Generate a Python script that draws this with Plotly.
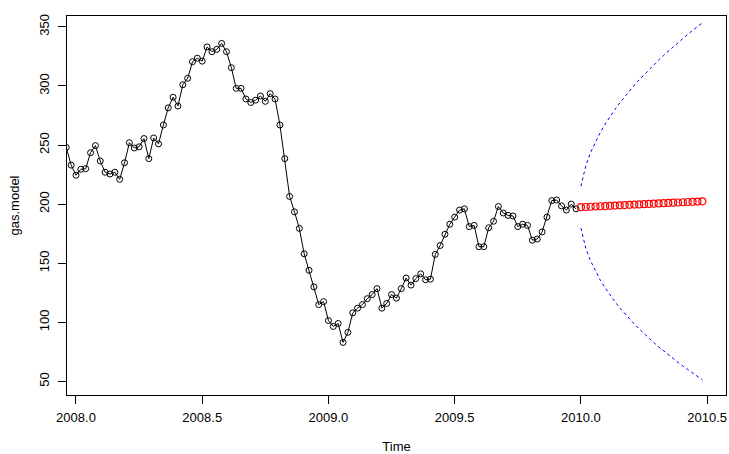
import plotly.graph_objects as go

# Weekly series: ts(start = c(2007, 51), frequency = 52)
freq = 52
start_time = 2007 + 50 / 52
gas_model = [
    248, 233, 224.5, 229.5, 230, 243.5, 249.5, 236.5, 227, 225.5,
    227, 221, 235, 252, 247.5, 248.5, 255.5, 238.5, 256, 251,
    267, 281.5, 290.5, 283, 301, 306.5, 320.5, 323.5, 321, 333,
    329, 331, 336, 329, 315.5, 298, 298, 289, 286, 288,
    291.5, 287, 293.5, 289, 267, 238.5, 206.5, 193.5, 179.5, 158,
    144, 130, 115, 117.5, 101.5, 96.5, 99, 83, 91.5, 108,
    112, 115, 120, 123.5, 128.5, 112, 116, 123.5, 120.5, 128.5,
    137.5, 131.5, 137, 141, 136, 136.5, 157.5, 165, 174.5, 183,
    189, 195, 196, 181, 182, 164, 164, 180, 185.5, 198,
    192.5, 190.5, 190, 181, 183, 182, 169.5, 170.5, 176.5, 189,
    203, 203.5, 198.5, 195, 200, 196,
]

# 26-week forecast with 95% bounds
fc_mean = [
    197.4, 197.6, 197.8, 198.0, 198.2, 198.4, 198.6, 198.8, 199.0, 199.2,
    199.4, 199.6, 199.8, 200.0, 200.2, 200.4, 200.6, 200.8, 201.0, 201.2,
    201.4, 201.6, 201.8, 202.0, 202.2, 202.4,
]
fc_upper = [
    215.1, 232.5, 243.8, 252.9, 260.8, 267.8, 274.2, 280.1, 285.7, 290.9,
    295.9, 300.7, 305.2, 309.6, 313.8, 317.9, 321.9, 325.8, 329.5, 333.2,
    336.7, 340.2, 343.6, 347.0, 350.2, 353.4,
]
fc_lower = [
    179.7, 162.7, 151.8, 143.1, 135.6, 129.0, 123.0, 117.5, 112.3, 107.5,
    102.9, 98.5, 94.4, 90.4, 86.6, 82.9, 79.3, 75.8, 72.5, 69.2,
    66.1, 63.0, 60.0, 57.0, 54.2, 51.4,
]

x_ticks = [2008.0, 2008.5, 2009.0, 2009.5, 2010.0, 2010.5]
x_tick_text = ["2008.0", "2008.5", "2009.0", "2009.5", "2010.0", "2010.5"]
y_ticks = [50, 100, 150, 200, 250, 300, 350]

t_obs = [start_time + i / freq for i in range(len(gas_model))]
fc_start = start_time + len(gas_model) / freq
t_fc = [fc_start + i / freq for i in range(len(fc_mean))]

font = "Liberation Sans, Arial, Helvetica, sans-serif"

fig = go.Figure()
fig.add_trace(go.Scatter(
    x=t_obs, y=gas_model, mode="lines+markers",
    line=dict(color="black", width=1),
    marker=dict(symbol="circle-open", size=6, color="black", line=dict(width=1)),
    showlegend=False,
))
fig.add_trace(go.Scatter(
    x=t_fc, y=fc_upper, mode="lines",
    line=dict(color="#0000FF", width=1, dash="3px,3px"), showlegend=False,
))
fig.add_trace(go.Scatter(
    x=t_fc, y=fc_lower, mode="lines",
    line=dict(color="#0000FF", width=1, dash="3px,3px"), showlegend=False,
))
fig.add_trace(go.Scatter(
    x=t_fc, y=fc_mean, mode="markers",
    marker=dict(symbol="circle-open", size=7, color="#FF0000", line=dict(width=1.2)),
    showlegend=False,
))

fig.update_layout(
    width=729, height=454,
    margin=dict(l=67, r=3, t=16, b=59),
    plot_bgcolor="white", paper_bgcolor="white",
    font=dict(family=font, size=12, color="black"),
    xaxis=dict(
        range=[2007.9644, 2010.5746], tickvals=x_ticks, ticktext=x_tick_text,
        showgrid=False, zeroline=False, showline=True, mirror=True,
        linecolor="black", linewidth=1, ticks="outside", ticklen=8,
        tickcolor="black", tickfont=dict(size=13), ticklabelstandoff=2,
        title=dict(text="Time", font=dict(size=13), standoff=20),
        automargin=False,
    ),
    yaxis=dict(
        range=[38.5, 359.2], tickvals=y_ticks,
        showgrid=False, zeroline=False, showline=True, mirror=True,
        linecolor="black", linewidth=1, ticks="outside", ticklen=8,
        tickcolor="black", tickfont=dict(size=13), tickangle=-90,
        ticklabelstandoff=4,
        title=dict(text="gas.model", font=dict(size=13), standoff=14),
        automargin=False,
    ),
)

fig.write_html("out.html")
